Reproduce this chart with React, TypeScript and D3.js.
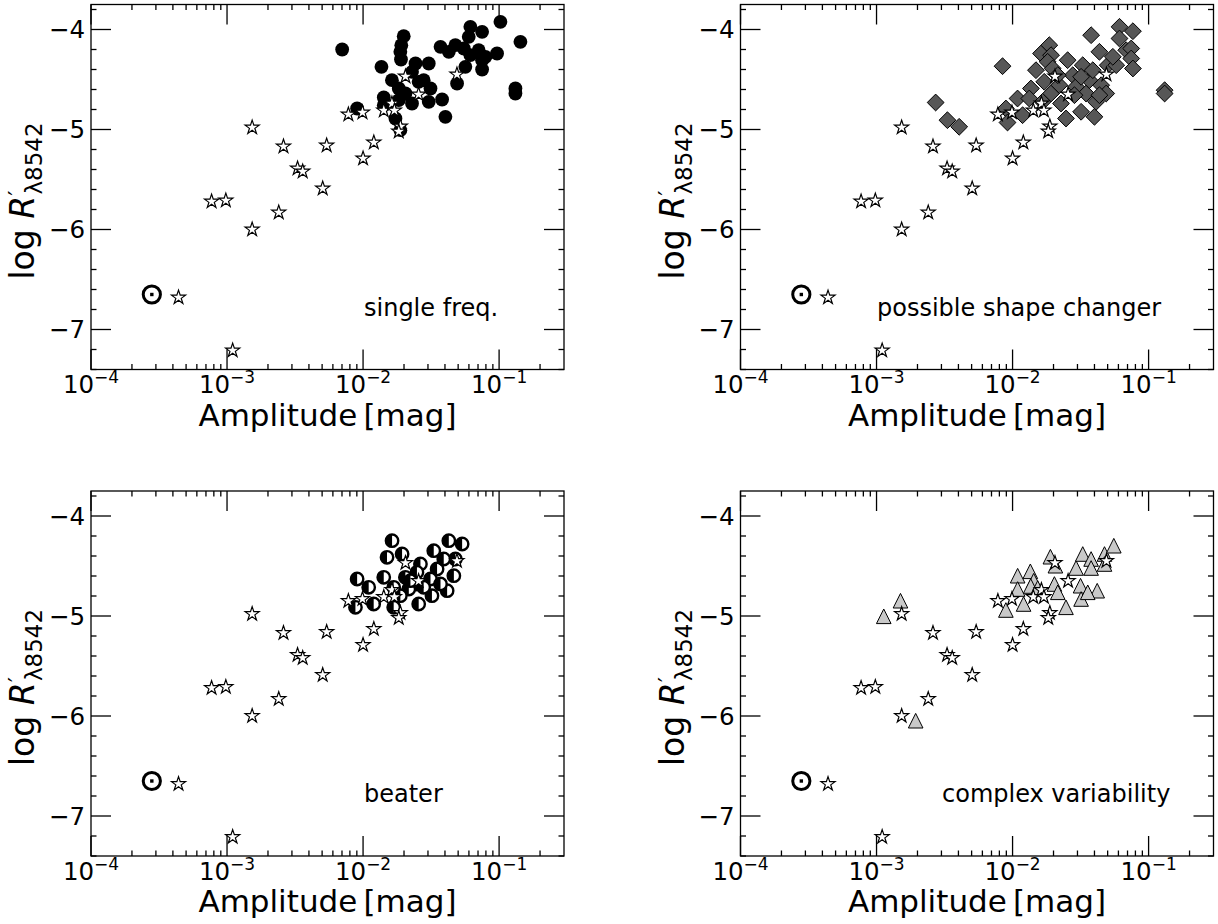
import React from "react";
import * as d3 from "d3";

// comparison stars [amplitude (mag), log R'], shown in every panel
const stars: [number, number][] = [
  [4.4e-4, -6.68], [1.1e-3, -7.21], [7.7e-4, -5.72], [9.8e-4, -5.71],
  [1.53e-3, -4.98], [1.53e-3, -6.0], [2.6e-3, -5.17], [2.4e-3, -5.83],
  [3.3e-3, -5.39], [3.6e-3, -5.42], [5.4e-3, -5.16], [5.05e-3, -5.59],
  [7.8e-3, -4.85], [9.9e-3, -4.83], [1.0e-2, -5.29], [1.2e-2, -5.13],
  [1.42e-2, -4.81], [1.63e-2, -4.74], [1.7e-2, -4.81], [1.88e-2, -4.97],
  [1.83e-2, -5.02], [2.05e-2, -4.47], [2.56e-2, -4.65], [4.9e-2, -4.45],
];

// the Sun
const sun: [number, number] = [2.8e-4, -6.65];

const singleFreq: [number, number][] = [
  [0.00702, -4.2], [0.00904, -4.79], [0.01365, -4.373], [0.0199, -4.067],
  [0.0191, -4.157], [0.0188, -4.223], [0.019, -4.3], [0.0243, -4.34],
  [0.0304, -4.34], [0.0229, -4.423], [0.0183, -4.59], [0.0142, -4.68],
  [0.0142, -4.757], [0.0183, -4.707], [0.0229, -4.74], [0.0173, -4.89],
  [0.0188, -5.007], [0.0279, -4.507], [0.0313, -4.59], [0.0304, -4.723],
  [0.0381, -4.7], [0.0403, -4.873], [0.0371, -4.173], [0.0427, -4.223],
  [0.0477, -4.157], [0.055, -4.19], [0.0615, -3.973], [0.075, -4.023],
  [0.0598, -4.073], [0.0708, -4.207], [0.0794, -4.273], [0.0966, -4.24],
  [0.0565, -4.373], [0.075, -4.4], [0.0491, -4.54], [0.1023, -3.923],
  [0.1435, -4.123], [0.1318, -4.59], [0.1318, -4.64], [0.0205, -4.64],
  [0.0256, -4.523], [0.075, -4.307], [0.0615, -4.257], [0.0163, -4.507],
];

const shapeChanger: [number, number][] = [
  [0.00272, -4.73], [0.00332, -4.907], [0.00405, -4.973], [0.00844, -4.367],
  [0.00893, -4.79], [0.00918, -4.93], [0.01088, -4.69], [0.01185, -4.857],
  [0.01365, -4.59], [0.01327, -4.69], [0.01486, -4.407], [0.01619, -4.24],
  [0.01862, -4.157], [0.01918, -4.257], [0.01811, -4.323], [0.01972, -4.39],
  [0.01709, -4.523], [0.01918, -4.64], [0.02208, -4.557], [0.0227, -4.74],
  [0.0254, -4.307], [0.0277, -4.457], [0.0293, -4.573], [0.0247, -4.89],
  [0.0328, -4.357], [0.0347, -4.64], [0.0319, -4.823], [0.0367, -4.507],
  [0.04, -4.873], [0.0411, -4.723], [0.0435, -4.223], [0.0389, -4.407],
  [0.0448, -4.557], [0.0488, -4.64], [0.0378, -4.057], [0.0501, -4.357],
  [0.0578, -4.357], [0.0546, -4.273], [0.0611, -3.973], [0.0767, -4.017],
  [0.0611, -4.09], [0.0684, -4.207], [0.0745, -4.19], [0.0745, -4.29],
  [0.0767, -4.39], [0.1312, -4.607], [0.1312, -4.64], [0.0285, -4.657],
  [0.0435, -4.657], [0.01663, -4.723], [0.0215, -4.457], [0.0319, -4.473],
];

const beater: [number, number][] = [
  [0.01633, -4.247], [0.015, -4.413], [0.01936, -4.38], [0.00904, -4.63],
  [0.011, -4.713], [0.00879, -4.913], [0.01197, -4.88], [0.01419, -4.613],
  [0.02047, -4.613], [0.02494, -4.68], [0.01679, -4.913], [0.02564, -4.88],
  [0.02641, -4.48], [0.0331, -4.347], [0.0427, -4.247], [0.0535, -4.28],
  [0.0477, -4.43], [0.035, -4.53], [0.0465, -4.597], [0.0321, -4.797],
  [0.0415, -4.747], [0.0313, -4.63], [0.0217, -4.73], [0.0188, -4.797],
  [0.0168, -4.713], [0.0249, -4.563], [0.0392, -4.43], [0.0371, -4.68],
  [0.0223, -4.647], [0.0279, -4.713],
];

const complexVar: [number, number][] = [
  [0.00113, -5.003], [0.0015, -4.847], [0.00194, -6.047], [0.00893, -4.94],
  [0.0109, -4.597], [0.0109, -4.73], [0.01205, -4.88], [0.01351, -4.553],
  [0.0143, -4.647], [0.01897, -4.407], [0.02065, -4.497], [0.0203, -4.68],
  [0.0215, -4.763], [0.0247, -4.913], [0.0293, -4.52], [0.0328, -4.38],
  [0.0316, -4.697], [0.0319, -4.83], [0.0378, -4.43], [0.0378, -4.52],
  [0.0419, -4.747], [0.0357, -4.763], [0.0474, -4.38], [0.0474, -4.48],
  [0.0555, -4.297], [0.0136, -4.7], [0.0153, -4.72],
];

const xMajor = [1e-4, 1e-3, 1e-2, 1e-1];
const xMajorExp = ["−4", "−3", "−2", "−1"];
const yMajor = [-4, -5, -6, -7];

const PW = 473;
const PH = 365;
const FONT = "DejaVu Sans";

const starPath =
  d3.lineRadial<number>()
    .angle((d, i) => (i * Math.PI) / 5)
    .radius((d) => d)
    .curve(d3.curveLinearClosed)(d3.range(10).map((i) => (i % 2 === 0 ? 7.4 : 2.85))) || "";

type Kind = "circle" | "diamond" | "beater" | "triangle";

function Marker({ kind, cx, cy }: { kind: Kind; cx: number; cy: number }) {
  const t = `translate(${cx},${cy})`;
  if (kind === "circle") return <circle cx={cx} cy={cy} r={6.9} fill="#000" />;
  if (kind === "diamond") {
    const s = 8.4;
    return (
      <path transform={t} d={`M0,${-s}L${s},0L0,${s}L${-s},0Z`} fill="#575757" stroke="#000" strokeWidth={1} />
    );
  }
  if (kind === "triangle") {
    const s = 7.3;
    return (
      <path transform={t} d={`M0,${-s}L${s},${s}L${-s},${s}Z`} fill="#c9c9c9" stroke="#000" strokeWidth={1} />
    );
  }
  // half-filled circle
  const r = 6.2;
  return (
    <g transform={t}>
      <circle r={r} fill="#fff" />
      <path d={`M0,${-r}A${r},${r} 0 0 0 0,${r}Z`} fill="#000" />
      <circle r={r} fill="none" stroke="#000" strokeWidth={2.4} />
    </g>
  );
}

function Panel({ left, top, points, kind, label, labelX }: {
  left: number; top: number; points: [number, number][]; kind: Kind; label: string; labelX: number;
}) {
  const x = d3.scaleLog().domain([1e-4, 0.3]).range([0, PW]);
  const y = d3.scaleLinear().domain([-7.4, -3.75]).range([PH, 0]);

  const xMinor: number[] = [];
  for (let e = -4; e <= -1; e++) {
    for (let k = 2; k <= 9; k++) {
      const v = k * Math.pow(10, e);
      if (v <= 0.3) xMinor.push(v);
    }
  }
  const yMinor = d3.range(0, 19).map((i) => +(-7.4 + 0.2 * i).toFixed(1)).filter((v) => !Number.isInteger(v));

  const maj = 20;
  const min = 5.5;
  const sw = 1.3;

  return (
    <g transform={`translate(${left},${top})`} fontFamily={FONT}>
      {/* data */}
      {points.map((d, i) => (
        <Marker key={i} kind={kind} cx={x(d[0])} cy={y(d[1])} />
      ))}
      {stars.map((d, i) => (
        <path key={i} transform={`translate(${x(d[0])},${y(d[1])})`} d={starPath} fill="#fff" stroke="#000" strokeWidth={1.2} strokeLinejoin="miter" />
      ))}
      <circle cx={x(sun[0])} cy={y(sun[1])} r={8.6} fill="none" stroke="#000" strokeWidth={3} />
      <rect x={x(sun[0]) - 1.7} y={y(sun[1]) - 1.7} width={3.4} height={3.4} fill="#000" />

      {/* frame */}
      <rect x={0} y={0} width={PW} height={PH} fill="none" stroke="#000" strokeWidth={sw} />

      {/* x ticks, bottom and top */}
      {xMajor.map((v) => (
        <g key={v}>
          <line x1={x(v)} x2={x(v)} y1={PH} y2={PH - maj} stroke="#000" strokeWidth={sw} />
          <line x1={x(v)} x2={x(v)} y1={0} y2={maj} stroke="#000" strokeWidth={sw} />
        </g>
      ))}
      {xMinor.map((v) => (
        <g key={v}>
          <line x1={x(v)} x2={x(v)} y1={PH} y2={PH - min} stroke="#000" strokeWidth={sw} />
          <line x1={x(v)} x2={x(v)} y1={0} y2={min} stroke="#000" strokeWidth={sw} />
        </g>
      ))}
      {/* y ticks, left and right */}
      {yMajor.map((v) => (
        <g key={v}>
          <line x1={0} x2={maj} y1={y(v)} y2={y(v)} stroke="#000" strokeWidth={sw} />
          <line x1={PW} x2={PW - maj} y1={y(v)} y2={y(v)} stroke="#000" strokeWidth={sw} />
        </g>
      ))}
      {yMinor.map((v) => (
        <g key={v}>
          <line x1={0} x2={min} y1={y(v)} y2={y(v)} stroke="#000" strokeWidth={sw} />
          <line x1={PW} x2={PW - min} y1={y(v)} y2={y(v)} stroke="#000" strokeWidth={sw} />
        </g>
      ))}

      {/* tick labels */}
      {xMajor.map((v, i) => (
        <text key={v} x={x(v)} y={PH + 23.5} textAnchor="middle" fontSize={24.5}>
          10<tspan dy={-10} fontSize={17}>{xMajorExp[i]}</tspan>
        </text>
      ))}
      {yMajor.map((v) => (
        <text key={v} x={-6} y={y(v)} dy="0.36em" textAnchor="end" fontSize={24.5}>
          {"−" + Math.abs(v)}
        </text>
      ))}

      {/* axis labels */}
      <text x={PW / 2} y={PH + 56} textAnchor="middle" fontSize={31}>
        Amplitude{"\u2009"}[mag]
      </text>
      <text transform={`translate(-57,${PH / 2 + 14}) rotate(-90)`} textAnchor="middle" fontSize={33}>
        log <tspan fontStyle="italic">R</tspan>
        <tspan dy={-9} fontSize={23}>′</tspan>
        <tspan dx={-4} dy={17} fontSize={23}>λ8542</tspan>
      </text>

      <text x={labelX} y={y(-6.86)} fontSize={24}>{label}</text>
    </g>
  );
}

export default function App() {
  return (
    <svg width={1218} height={924} style={{ position: "absolute", left: 0, top: 0, background: "#fff" }}>
      <rect width={1218} height={924} fill="#fff" />
      <Panel left={91} top={4.5} points={singleFreq} kind="circle" label="single freq." labelX={273} />
      <Panel left={740.5} top={4.5} points={shapeChanger} kind="diamond" label="possible shape changer" labelX={136.5} />
      <Panel left={91} top={491} points={beater} kind="beater" label="beater" labelX={273} />
      <Panel left={740.5} top={491} points={complexVar} kind="triangle" label="complex variability" labelX={201.5} />
    </svg>
  );
}
